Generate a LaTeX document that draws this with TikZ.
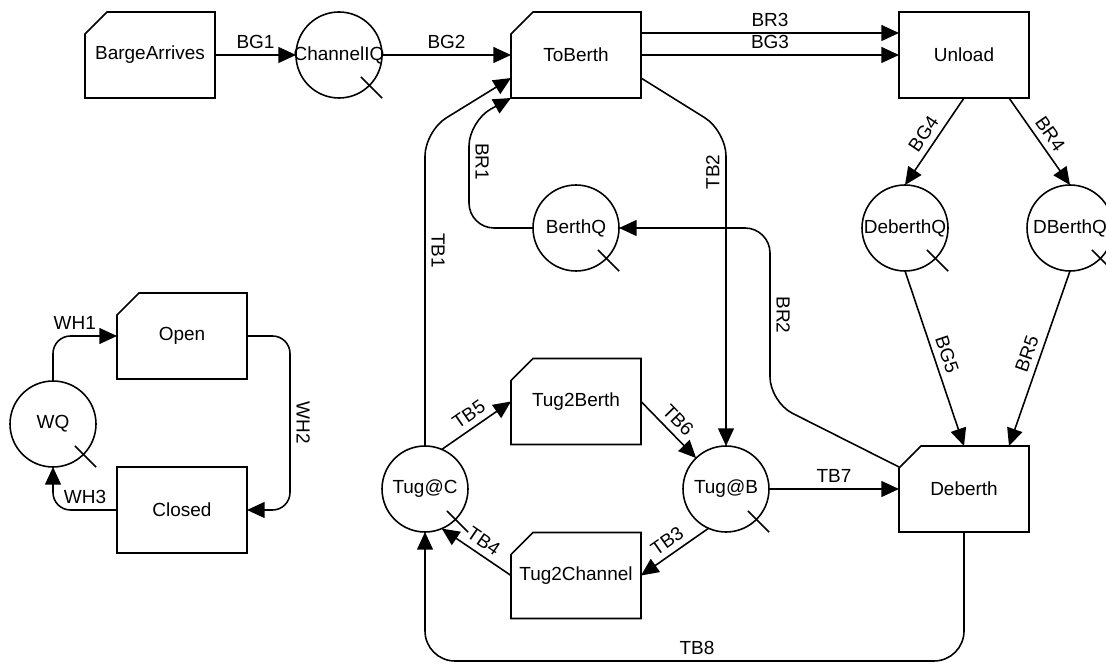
\documentclass[tikz,border=0pt]{standalone}
\usepackage{fontspec}
\setmainfont{Liberation Sans}
\usetikzlibrary{arrows.meta, positioning}
\tikzset{
    >={Triangle[length=10pt, width=9pt]}, % filled arrow heads
    event/.style={rectangle, minimum width=2.6cm, minimum height=1.72cm, outer sep=0pt}, % outline with cut corner drawn below
    task/.style={rectangle, draw, minimum width=2.6cm, minimum height=1.72cm, outer sep=0pt},
    queue/.style={circle, draw, minimum size=1.72cm, outer sep=0pt}, % name goes in as label so the circle keeps its size
    flow/.style={->, rounded corners=0.5cm},
    every label/.style={inner sep=0pt},
}
\begin{document}
\begin{tikzpicture}[line width=0.9pt, font=\fontsize{10.8}{13}\selectfont]
    \useasboundingbox (0,0) rectangle (22.12,13.28);

    % barges
    \node[event] (barge) at (3.0,12.18) {BargeArrives};
    \node[queue, right=1.62cm of barge, label=center:ChannelIQ] (chanq) {};
    \node[event] (toberth) at (11.52,12.18) {ToBerth};
    \node[task, right=5.16cm of toberth] (unload) {Unload};
    \node[queue, below=1.74cm of toberth, label=center:BerthQ] (berthq) {};
    \node[queue, label=center:DeberthQ] (deberthq) at (18.1,8.72) {};
    \node[queue, label=center:DBerthQ] (dberthq) at (21.4,8.72) {};
    \node[event] (deberth) at (19.28,3.5) {Deberth};

    % tugs
    \node[queue, label=center:Tug@C] (tugc) at (8.5,3.5) {};
    \node[queue, label=center:Tug@B] (tugb) at (14.52,3.5) {};
    \node[event] (tug2berth) at (11.52,5.25) {Tug2Berth};
    \node[event] (tug2chan) at (11.52,1.77) {Tug2Channel};

    % weather
    \node[queue, label=center:WQ] (wq) at (1.06,4.8) {};
    \node[event] (open) at (3.64,6.56) {Open};
    \node[task] (closed) at (3.64,3.08) {Closed};

    \coordinate (tb8) at (13.94,0.06);
    \coordinate (wh2) at (5.8,4.82);

    % cut corners and queue ticks
    \foreach \e in {barge,toberth,deberth,tug2berth,tug2chan,open}
        \draw ([yshift=-0.44cm]\e.north west) -- ([xshift=0.44cm]\e.north west) -- (\e.north east)
              -- (\e.south east) -- (\e.south west) -- cycle;
    \foreach \q in {chanq,berthq,deberthq,dberthq,tugc,tugb,wq}
        \draw (\q.center) ++(-45:0.62) -- ++(-45:0.6);

    \draw[flow] (barge) -- node[above] {BG1} (chanq);
    \draw[flow] (chanq) -- node[above] {BG2} (toberth);
    \draw[flow] ([yshift=0.44cm]toberth.east) -- node[above] {BR3} ([yshift=0.44cm]unload.west);
    \draw[flow] (toberth) -- node[above] {BG3} (unload);
    \draw[flow] (unload.south) -- node[sloped, above] {BG4} (deberthq.north);
    \draw[flow] ([xshift=0.9cm]unload.south) -- node[sloped, above] {BR4} (dberthq.north);
    \draw[flow] (deberthq.south) -- node[sloped, above] {BG5} (deberth.north);
    \draw[flow] (dberthq.south) -- node[sloped, above] {BR5} ([xshift=0.9cm]deberth.north);
    \draw[flow] (berthq.west) -- (9.38,8.72) -- node[pos=0.62, rotate=-90, above] {BR1} (9.38,10.86) -- (toberth.south west);
    \draw[flow] ([yshift=-0.42cm]deberth.north west) -- (15.4,5.24) -- node[pos=0.5, rotate=-90, above] {BR2} (15.4,8.72) -- (berthq.east);
    \draw[flow] (tugc.north) -- node[pos=0.62, rotate=-90, above] {TB1} (8.5,10.66) -- ([yshift=-0.46cm]toberth.west);
    \draw[flow] ([yshift=-0.46cm]toberth.east) -- (14.52,10.66) -- node[pos=0.13, rotate=90, above] {TB2} (tugb.north);
    \draw[flow] (tugb.-114) -- node[sloped, above] {TB3} (tug2chan.east);
    \draw[flow] (tug2chan.west) -- node[sloped, above] {TB4} (tugc.-67);
    \draw[flow] (tugc.67) -- node[sloped, above] {TB5} (tug2berth.west);
    \draw[flow] (tug2berth.east) -- node[sloped, above] {TB6} (tugb.134);
    \draw[flow] (tugb) -- node[above] {TB7} (deberth);
    \draw[flow, rounded corners=0.6cm] (deberth.south) |- (tb8) node[above] {TB8} -| (tugc.south);
    \draw[flow, rounded corners=0.35cm] (wq.north) |- node[pos=0.67, above] {WH1} (open.west);
    \draw[flow, rounded corners=0.35cm] (open.east) -| (wh2) node[rotate=-90, above] {WH2} |- (closed.east);
    \draw[flow, rounded corners=0.35cm] (closed.west) -| node[pos=0.25, above] {WH3} (wq.south);
\end{tikzpicture}
\end{document}
